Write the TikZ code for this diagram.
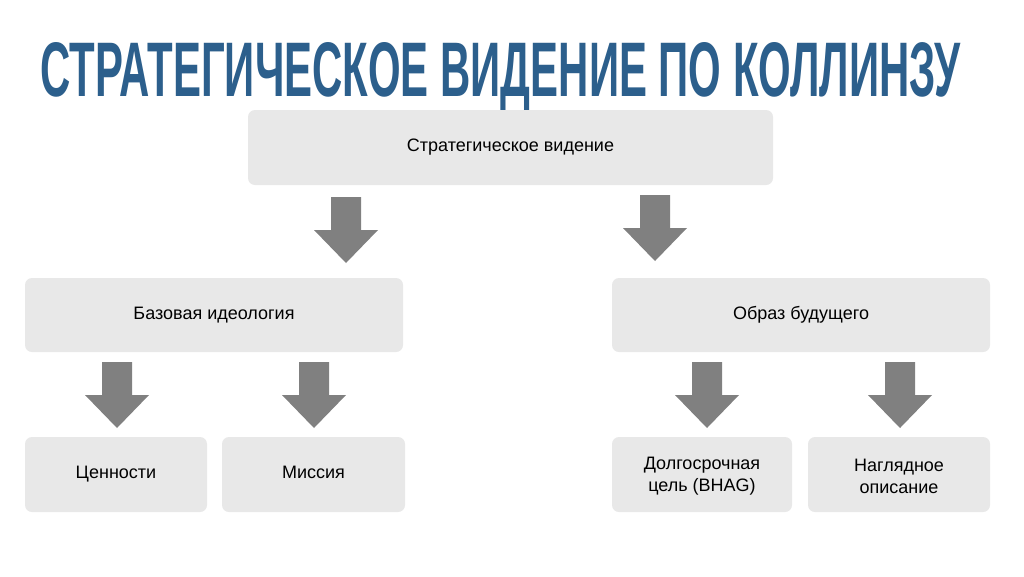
\documentclass[tikz,border=0pt]{standalone}
\usepackage{fontspec}
\usepackage{graphicx}
\setmainfont{Liberation Sans}
\definecolor{titleblue}{HTML}{2C5F8C}
\definecolor{boxgray}{HTML}{E8E8E8}
\definecolor{arrgray}{HTML}{808080}
\begin{document}
\begin{tikzpicture}[x=1pt,y=-1pt,
  box/.style={fill=boxgray,rounded corners=7pt,draw=none,font=\fontsize{18}{22}\selectfont,align=center},
  blockarrow/.style={fill=arrgray,draw=none}]
\useasboundingbox (0,0) rectangle (1024,576);
\fill[white] (0,0) rectangle (1024,576);
\node[anchor=base west,inner sep=0,text=titleblue] (title) at (40,96) {\resizebox{920pt}{54pt}{\bfseries СТРАТЕГИЧЕСКОЕ ВИДЕНИЕ ПО КОЛЛИНЗУ}};
\newcommand{\bx}[6]{\path[box] (#2,#3) rectangle (#4,#5); \node[box,fill=none] (#1) at ({(#2+#4)/2},{(#3+#5)/2}) {\strut #6};}
\bx{top}{248}{110}{773}{185}{Стратегическое видение}
\bx{ideo}{25}{278}{403}{352}{Базовая идеология}
\bx{future}{612}{278}{990}{352}{Образ будущего}
\bx{val}{25}{437}{207}{512}{Ценности}
\bx{mis}{222}{437}{405}{512}{Миссия}
\bx{bhag}{612}{437}{792}{512}{Долгосрочная\\цель (BHAG)}
\bx{desc}{808}{437}{990}{512}{Наглядное\\описание}
\newcommand{\barrow}[3]{\fill[blockarrow] ({#1-15},#2) -- ({#1+15},#2) -- ({#1+15},{#2+(#3-#2)*0.5}) -- ({#1+32},{#2+(#3-#2)*0.5}) -- (#1,#3) -- ({#1-32},{#2+(#3-#2)*0.5}) -- ({#1-15},{#2+(#3-#2)*0.5}) -- cycle;}
\barrow{346}{197}{263}
\barrow{655}{195}{261}
\barrow{117}{362}{428}
\barrow{314}{362}{428}
\barrow{707}{362}{428}
\barrow{900}{362}{428}
\end{tikzpicture}
\end{document}
